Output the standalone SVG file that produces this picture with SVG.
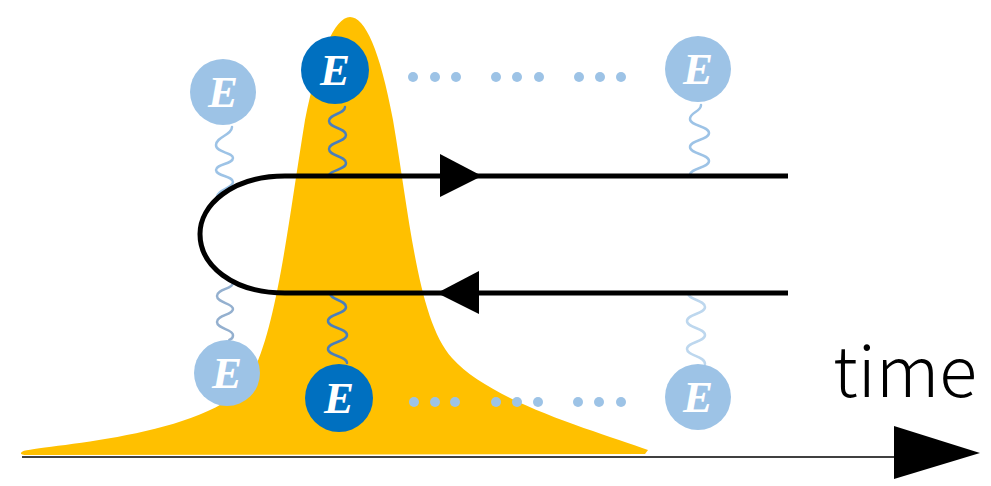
<svg xmlns="http://www.w3.org/2000/svg" width="991" height="486" viewBox="0 0 991 486">
<style>
.lt{fill:#9DC3E6}
.dk{fill:#0070C0}
.et{font-family:"Liberation Serif",serif;font-weight:bold;font-style:italic;font-size:45px;fill:#fff;text-anchor:middle}
.sp{fill:none;stroke-width:2.5;stroke-linecap:round}
.dot{fill:#9DC3E6}
</style>
<rect width="991" height="486" fill="#fff"/>
<g id="pulse">
<path d="M22,452 C24,446 200,440 245,385 C275,345 287,230 305,120 C318,55 335,17 350,17 C365,17 380,50 393,120 C410,220 418,320 452,358 C492,403 600,432 648,450 L645,454 L28,455 C20,455 20,453 22,452 Z" fill="#FFC000"/>
</g>
<g id="axis">
<line x1="22" y1="457" x2="896" y2="457" stroke="#404040" stroke-width="2"/>
<polygon points="894,426 980,453 894,479" fill="#000"/>
<text x="833" y="397" font-family="Noto Sans CJK JP, Noto Sans, sans-serif" font-weight="300" font-size="70" textLength="144" lengthAdjust="spacing" fill="#000">time</text>
</g>
<g id="springs">
<path class="sp" stroke="#9DC3E6" d="M232,127 C232,135 216,137 216,145 S233,152 233,158 S216,164 216,170 S233,176 233,182 S217,190 217,197"/>
<path class="sp" stroke="#4A7EBB" d="M345,107 C345,114 329,114 329,121 S346,128 346,135 S329,142 329,149 S346,156 346,163 S329,170 329,176"/>
<path class="sp" stroke="#9DC3E6" d="M701,105 C701,112 690,112 690,119 S709,126 709,133 S690,140 690,147 S709,154 709,161 S690,168 690,175"/>
<path class="sp" stroke="#94B0CF" d="M233,283 C233,289 217,289 217,296 S233,303 233,309 S217,315 217,322 S233,329 233,335 S229,338 229,341"/>
<path class="sp" stroke="#4A7EBB" d="M330,293 C330,300 346,300 346,307 S328,314 328,321 S347,328 347,335 S328,342 328,349 S347,356 347,363"/>
<path class="sp" stroke="#BDD7EE" d="M688,293 C688,300 705,300 705,307 S687,314 687,321 S705,328 705,335 S687,342 687,349 S705,356 705,364"/>
</g>
<g id="connectors">
<path d="M788,176 L285,176 C232,176 200,205 200,234 C200,265 232,293 285,293 L788,293" fill="none" stroke="#000" stroke-width="5"/>
<polygon points="440,154 482,176 440,197" fill="#000"/>
<polygon points="437,293 479,271 479,314" fill="#000"/>
</g>
<g id="dots-top">
<circle class="dot" cx="413" cy="77" r="5"/><circle class="dot" cx="435" cy="77" r="5"/><circle class="dot" cx="456" cy="77" r="5"/>
<circle class="dot" cx="496" cy="77" r="5"/><circle class="dot" cx="517" cy="77" r="5"/><circle class="dot" cx="539" cy="77" r="5"/>
<circle class="dot" cx="579" cy="77" r="5"/><circle class="dot" cx="600" cy="77" r="5"/><circle class="dot" cx="621" cy="77" r="5"/>
</g>
<g id="dots-bottom">
<circle class="dot" cx="414" cy="402" r="5"/><circle class="dot" cx="435" cy="402" r="5"/><circle class="dot" cx="455" cy="402" r="5"/>
<circle class="dot" cx="496" cy="402" r="5"/><circle class="dot" cx="517" cy="402" r="5"/><circle class="dot" cx="538" cy="402" r="5"/>
<circle class="dot" cx="578" cy="402" r="5"/><circle class="dot" cx="599" cy="402" r="5"/><circle class="dot" cx="621" cy="402" r="5"/>
</g>
<g id="E-top-left"><circle class="lt" cx="223" cy="92" r="33"/><text class="et" x="223" y="107">E</text></g>
<g id="E-top-dark"><circle class="dk" cx="335" cy="70" r="34"/><text class="et" x="335" y="85">E</text></g>
<g id="E-top-right"><circle class="lt" cx="698" cy="69" r="33"/><text class="et" x="698" y="84">E</text></g>
<g id="E-bottom-left"><circle class="lt" cx="227" cy="373" r="33"/><text class="et" x="227" y="388">E</text></g>
<g id="E-bottom-dark"><circle class="dk" cx="339" cy="398" r="34"/><text class="et" x="339" y="413">E</text></g>
<g id="E-bottom-right"><circle class="lt" cx="698" cy="397" r="33"/><text class="et" x="698" y="412">E</text></g>
</svg>
